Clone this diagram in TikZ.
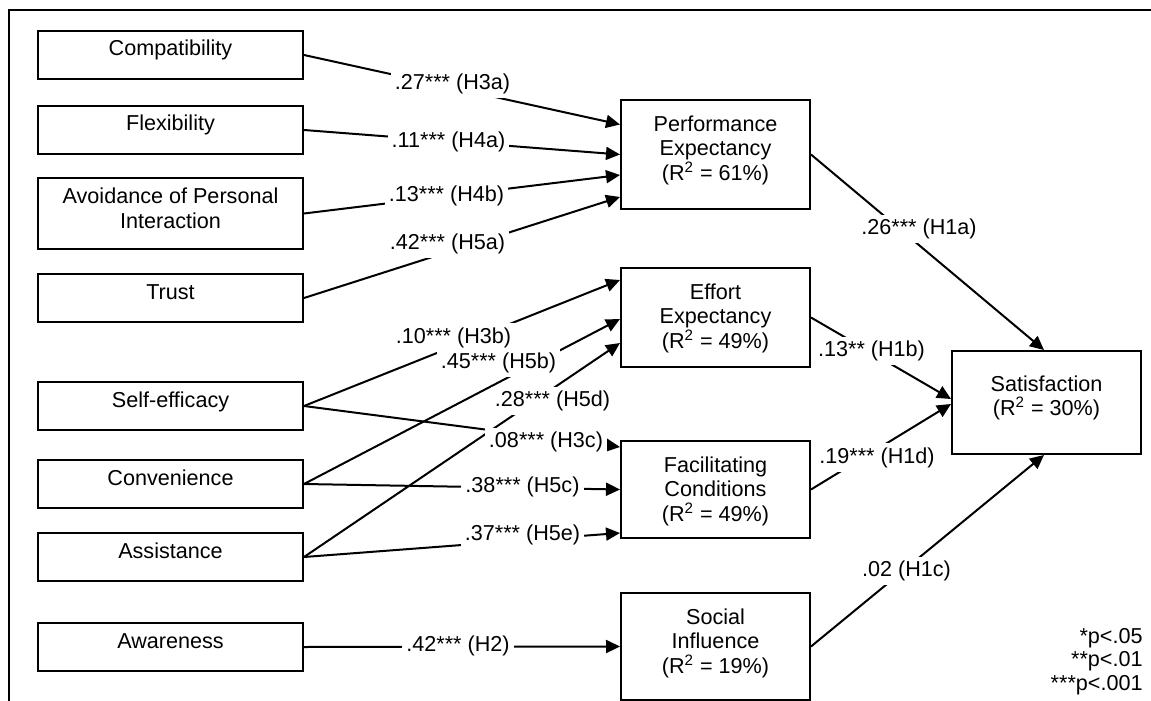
\documentclass[tikz,border=0pt]{standalone}
\usepackage{fontspec}
\setmainfont{Liberation Sans}
\usetikzlibrary{arrows.meta}

\tikzset{
  box/.style={draw, line width=1pt, inner sep=0pt, anchor=north west, align=center},
  lbox/.style={box, minimum width=132.5pt, minimum height=24pt, text height=12.5pt, text depth=11.5pt},
  mbox/.style={box, minimum width=94.5pt, text height=40pt},
  link/.style={line width=1pt, -{Triangle[length=7pt, width=6.5pt]}},
  coef/.style={fill=white, inner xsep=2pt, inner ysep=2pt}
}

\begin{document}
\begin{tikzpicture}[x=0.5pt, y=-0.5pt, font=\fontsize{10.8}{12.25}\selectfont]
  \useasboundingbox (0,0) rectangle (1151,701);
  % frame
  \draw[line width=1.25pt] (9,701) -- (9,10) -- (1151,10);

  % predictors
  \node[lbox] (comp)    at (37,30)  {Compatibility};
  \node[lbox] (flex)    at (37,105) {Flexibility};
  \node[lbox, text height=25pt, text depth=10.5pt] (avoid) at (37,177) {Avoidance of Personal\\Interaction};
  \node[lbox] (trust)   at (37,273) {Trust};
  \node[lbox] (selfeff) at (37,381) {Self-efficacy};
  \node[lbox] (conv)    at (37,459) {Convenience};
  \node[lbox] (assist)  at (37,532) {Assistance};
  \node[lbox] (aware)   at (37,622) {Awareness};

  % mediators
  \node[mbox, text depth=14.5pt] (pe) at (620,99)  {Performance\\Expectancy\\(R\textsuperscript{2} = 61\%)};
  \node[mbox, text depth=9.5pt]  (ee) at (620,267) {Effort\\Expectancy\\(R\textsuperscript{2} = 49\%)};
  \node[mbox, text depth=8.5pt]  (fc) at (620,440) {Facilitating\\Conditions\\(R\textsuperscript{2} = 49\%)};
  \node[mbox, text depth=13.5pt] (si) at (620,592) {Social\\Influence\\(R\textsuperscript{2} = 19\%)};

  % outcome
  \node[mbox, text height=32.25pt, text depth=19.25pt] (sat) at (951,350) {Satisfaction\\(R\textsuperscript{2} = 30\%)};

  % paths to performance expectancy
  \draw[link] (comp.east)  -- ([yshift=15pt]pe.west);
  \draw[link] (flex.east)  -- (pe.west);
  \draw[link] (avoid.east) -- ([yshift=-10.25pt]pe.west);
  \draw[link] (trust.east) -- ([yshift=-21.25pt]pe.west);
  % paths to effort expectancy
  \draw[link] (selfeff.east) -- ([yshift=18.75pt]ee.west);
  \draw[link] (conv.east)    -- ([yshift=-0.75pt]ee.west);
  \draw[link] (assist.east)  -- ([yshift=-12.75pt]ee.west);
  % paths to facilitating conditions
  \draw[link] (selfeff.east) -- ([yshift=21.25pt]fc.west);
  \draw[link] (conv.east)    -- (fc.west);
  \draw[link] (assist.east)  -- ([yshift=-21.75pt]fc.west);
  % path to social influence
  \draw[link] (aware.east) -- (si.west);
  % paths to satisfaction
  \draw[link] (pe.east) -- ([xshift=-1.25pt]sat.north);
  \draw[link] (ee.east) -- ([yshift=1.75pt]sat.west);
  \draw[link] (fc.east) -- ([yshift=-0.75pt]sat.west);
  \draw[link] (si.east) -- ([xshift=-1.25pt]sat.south);

  % coefficients
  \node[coef] (c3a) at (452.5,84)  {.27*** (H3a)};
  \node[coef] (c4a) at (448.5,141.5) {.11*** (H4a)};
  \node[coef] (c4b) at (446.5,195.5) {.13*** (H4b)};
  \node[coef] (c5a) at (447.5,244) {.42*** (H5a)};
  \node[coef] (c3b) at (453.5,337.5) {.10*** (H3b)};
  \node[coef] (c5b) at (498.5,362.5) {.45*** (H5b)};
  \node[coef] (c5d) at (552.5,401) {.28*** (H5d)};
  \node[coef] (c3c) at (546,442)   {.08*** (H3c)};
  \node[coef] (c5c) at (522.5,487) {.38*** (H5c)};
  \node[coef] (c5e) at (522.5,534.5) {.37*** (H5e)};
  \node[coef] (c2)  at (458,645.5) {.42*** (H2)};
  \node[coef] (c1a) at (919,229)   {.26*** (H1a)};
  \node[coef] (c1b) at (871.5,351) {.13** (H1b)};
  \node[coef] (c1d) at (877,457.5) {.19*** (H1d)};
  \node[coef] (c1c) at (906.5,571) {.02 (H1c)};

  % significance levels
  \node[anchor=north east, align=right, inner sep=0pt, font=\fontsize{10.8}{11.75}\selectfont] (sig) at (1143,628)
    {*p<.05\\{}**p<.01\\{}***p<.001};
\end{tikzpicture}
\end{document}
